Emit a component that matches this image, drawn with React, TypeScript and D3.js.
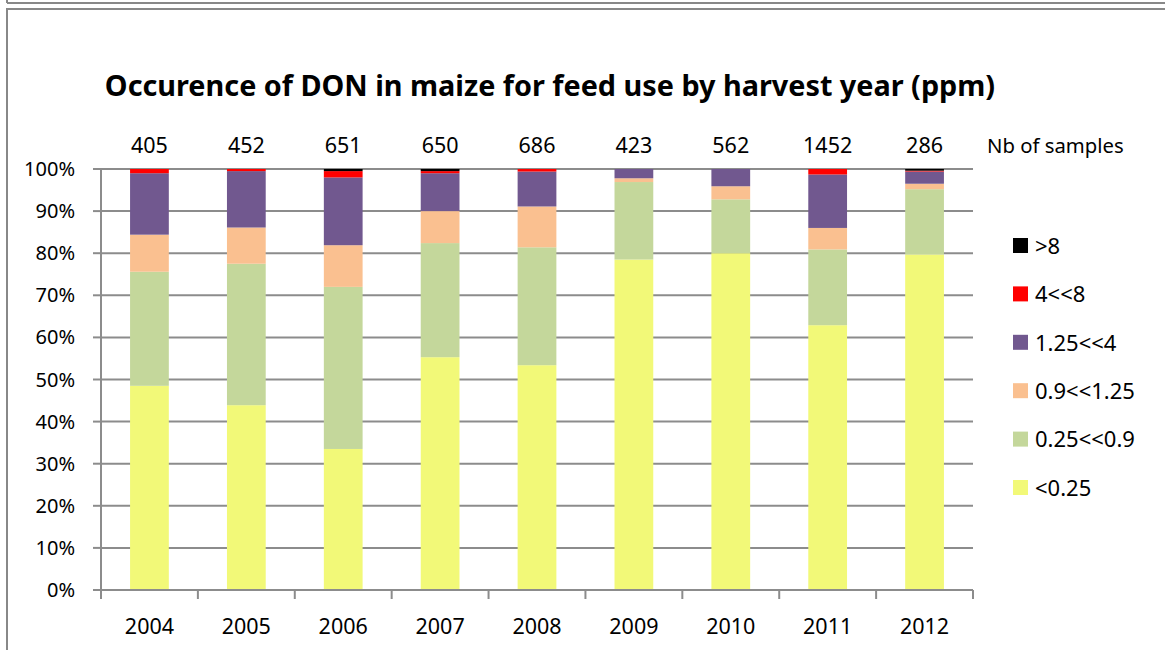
import * as d3 from "d3";

const years = ["2004", "2005", "2006", "2007", "2008", "2009", "2010", "2011", "2012"];
const sampleCounts = [405, 452, 651, 650, 686, 423, 562, 1452, 286];
const classes = ["<0.25", "0.25<<0.9", "0.9<<1.25", "1.25<<4", "4<<8", ">8"];
const classColors = ["#f2f978", "#c4d79b", "#fac090", "#71588f", "#ff0000", "#000000"];

// percentage of samples per class, one array per class, in year order
const lt025 = [48.5, 43.9, 33.5, 55.3, 53.4, 78.5, 80.0, 62.9, 79.7];
const c025to09 = [27.1, 33.6, 38.5, 27.1, 28.0, 18.4, 12.8, 18.0, 15.5];
const c09to125 = [8.8, 8.6, 9.9, 7.6, 9.7, 0.9, 3.1, 5.1, 1.3];
const c125to4 = [14.6, 13.4, 16.1, 9.0, 8.3, 2.2, 4.1, 12.7, 2.9];
const c4to8 = [1.0, 0.5, 1.5, 0.5, 0.6, 0, 0, 1.3, 0.2];
const gt8 = [0, 0, 0.5, 0.5, 0, 0, 0, 0, 0.4];
const seriesValues = [lt025, c025to09, c09to125, c125to4, c4to8, gt8];

const yTicks = [0, 10, 20, 30, 40, 50, 60, 70, 80, 90, 100];

const width = 1165;
const height = 650;
const plot = { left: 101, right: 973, top: 169, bottom: 590 };
const font = "'Noto Sans', 'Open Sans', sans-serif";

export default function App() {
  const x = d3.scaleBand<string>().domain(years).range([plot.left, plot.right]).paddingInner(0.6).paddingOuter(0.3);
  const xBoundary = d3.scaleLinear().domain([0, years.length]).range([plot.left, plot.right]);
  const y = d3.scaleLinear().domain([0, 100]).range([plot.bottom, plot.top]);

  const rows = years.map((year, i) => {
    const row: Record<string, number | string> = { year };
    classes.forEach((c, k) => {
      row[c] = seriesValues[k][i];
    });
    return row;
  });
  const stacked = d3.stack<Record<string, number | string>>().keys(classes)(rows as any);

  const legendY = d3.scalePoint<string>().domain([...classes].reverse()).range([245, 487]);

  return (
    <svg width={width} height={height} style={{ position: "absolute", left: 0, top: 0, background: "#fff" }}>
      <line x1={7} x2={width} y1={3} y2={3} stroke="#888" strokeWidth={2} />
      <line x1={7} x2={7} y1={0} y2={3} stroke="#888" strokeWidth={2} />
      <path d={`M7,${height} V9 H${width}`} fill="none" stroke="#888" strokeWidth={2} />

      <text x={550} y={96} textAnchor="middle" fontFamily={font} fontWeight="bold" fontSize={28.8} fill="#000">
        Occurence of DON in maize for feed use by harvest year (ppm)
      </text>

      {yTicks.map((t) => (
        <g key={t}>
          {t > 0 && (
            <line x1={plot.left} x2={plot.right} y1={y(t)} y2={y(t)} stroke="#8c8c8c" strokeWidth={2} />
          )}
          <line x1={plot.left - 8} x2={plot.left} y1={y(t)} y2={y(t)} stroke="#8c8c8c" strokeWidth={2} />
          <text x={75} y={y(t)} dy="0.35em" textAnchor="end" fontFamily={font} fontSize={20} fill="#000">
            {t}%
          </text>
        </g>
      ))}

      {stacked.map((layer, k) => (
        <g key={classes[k]} fill={classColors[k]}>
          {layer.map((d, i) => (
            <rect
              key={years[i]}
              x={x(years[i])}
              width={x.bandwidth()}
              y={y(d[1])}
              height={Math.max(0, y(d[0]) - y(d[1]))}
            />
          ))}
        </g>
      ))}

      <line x1={plot.left} x2={plot.left} y1={plot.top} y2={plot.bottom} stroke="#8c8c8c" strokeWidth={2} />
      <line x1={plot.left} x2={plot.right} y1={plot.bottom} y2={plot.bottom} stroke="#8c8c8c" strokeWidth={2} />
      {d3.range(years.length + 1).map((i) => (
        <line key={i} x1={xBoundary(i)} x2={xBoundary(i)} y1={plot.bottom} y2={plot.bottom + 9} stroke="#8c8c8c" strokeWidth={2} />
      ))}
      {years.map((year) => (
        <text key={year} x={(x(year) ?? 0) + x.bandwidth() / 2} y={634} textAnchor="middle" fontFamily={font} fontSize={21.5} fill="#000">
          {year}
        </text>
      ))}

      {sampleCounts.map((n, i) => (
        <text key={i} x={(x(years[i]) ?? 0) + x.bandwidth() / 2} y={153} textAnchor="middle" fontFamily={font} fontSize={21.5} fill="#000">
          {n}
        </text>
      ))}
      <text x={987} y={153} fontFamily={font} fontSize={20.3} fill="#000">
        Nb of samples
      </text>

      {classes.map((c, k) => (
        <g key={c} transform={`translate(1013,${legendY(c)})`}>
          <rect x={0} y={-7} width={15} height={15} fill={classColors[k]} />
          <text x={22} y={1} dy="0.35em" fontFamily={font} fontSize={22} fill="#000">
            {c}
          </text>
        </g>
      ))}
    </svg>
  );
}
